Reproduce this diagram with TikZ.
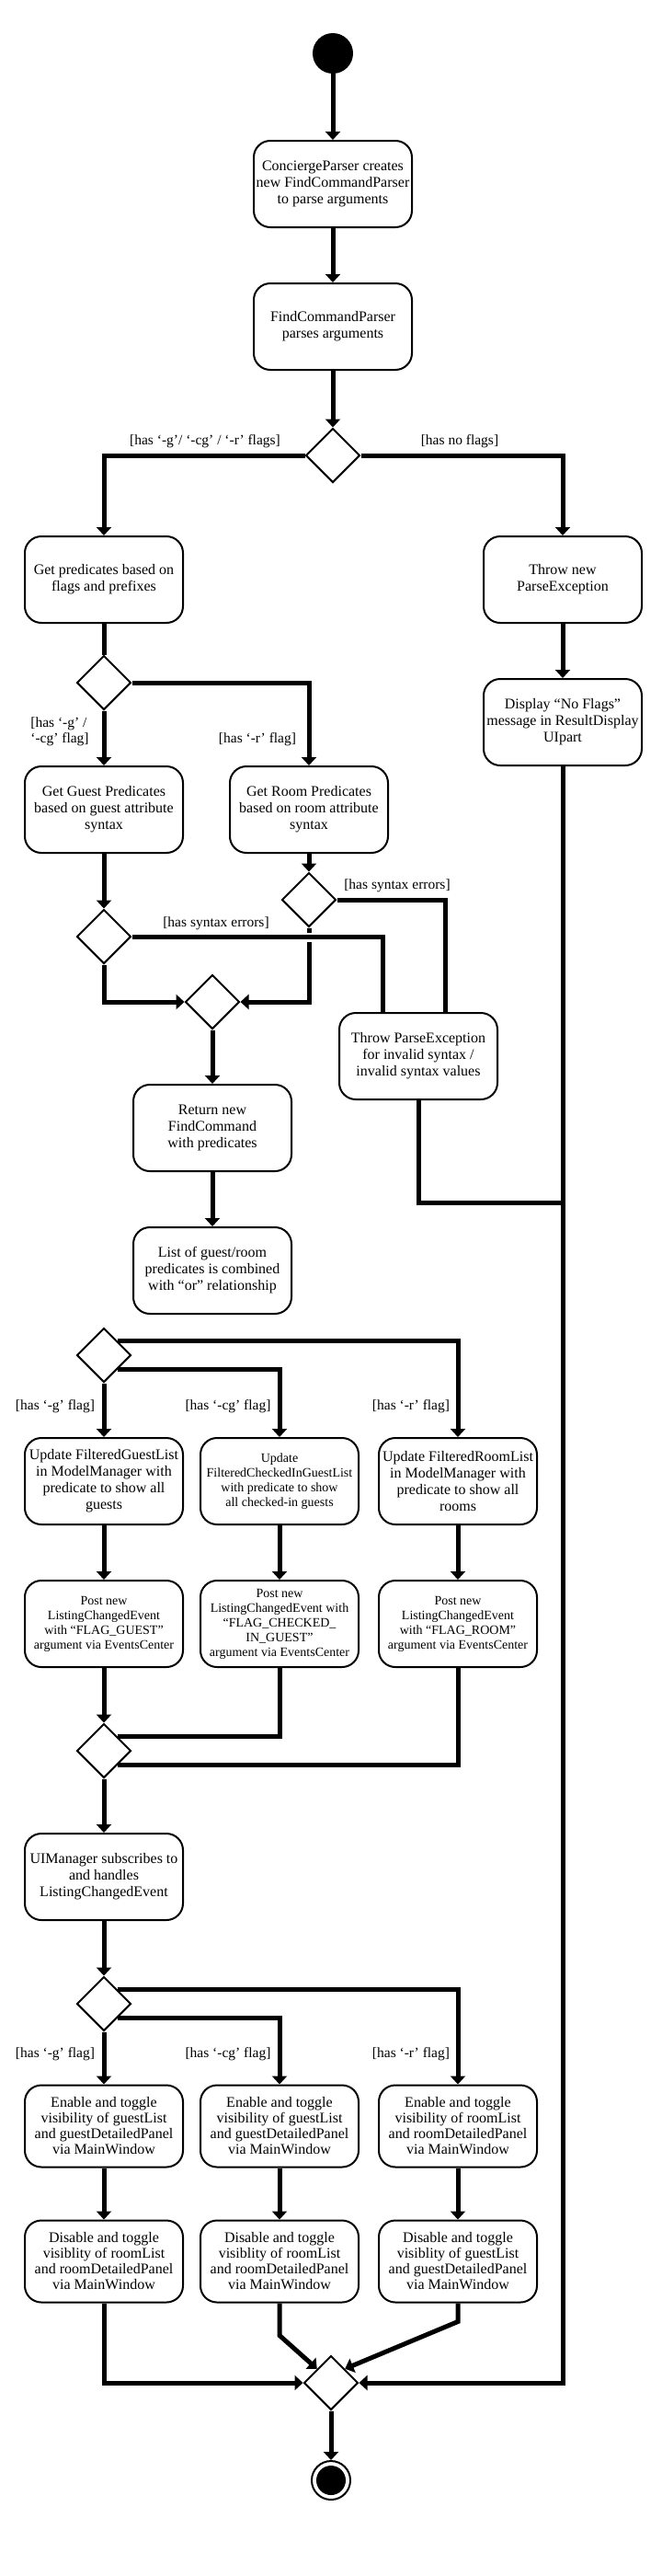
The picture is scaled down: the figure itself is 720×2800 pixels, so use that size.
\documentclass[tikz,border=0pt]{standalone}
\usepackage{fontspec}
\setmainfont{Liberation Serif}
\usetikzlibrary{shapes.geometric,arrows.meta}

\begin{document}
\begin{tikzpicture}[x=1pt,y=-1pt,
        act/.style={draw,rounded corners=18pt,line width=2pt,minimum width=172pt,minimum height=94pt,inner sep=2pt,align=center,font=\fontsize{16}{18}\selectfont},
        small/.style={font=\fontsize{14}{16}\selectfont},
        low/.style={minimum height=89pt,font=\fontsize{16}{17}\selectfont},
        branch/.style={draw,diamond,line width=2pt,minimum width=59pt,minimum height=59pt,inner sep=0pt,fill=white},
        flow/.style={line width=5pt},
        arr/.style={flow,-{Triangle[length=9pt,width=16pt]}},
        guard/.style={font=\fontsize{15.5}{17}\selectfont,inner sep=0pt}]
        \useasboundingbox (0,0) rectangle (720,2800);
        %% Start and parsing
        \node[circle,fill=black,minimum size=44pt,inner sep=0pt] (start) at (362,58) {};
        \node[act] (create) at (362,200) {ConciergeParser creates\\new FindCommandParser\\to parse arguments};
        \node[act] (parse) at (362,355) {FindCommandParser\\parses arguments};
        \node[branch] (flags) at (362,495) {};
        \node[act] (getpred) at (113,630) {Get predicates based on\\flags and prefixes};
        \node[act] (nothrow) at (612,630) {Throw new\\ParseException};
        \node[act] (noflags) at (612,785) {Display “No Flags”\\message in ResultDisplay\\UIpart};
        %% Predicates
        \node[branch] (kind) at (113,742) {};
        \node[act] (guestpred) at (113,880) {Get Guest Predicates\\based on guest attribute\\syntax};
        \node[act] (roompred) at (336,880) {Get Room Predicates\\based on room attribute\\syntax};
        \node[branch] (guestok) at (113,1018) {};
        \node[branch] (roomok) at (336,978) {};
        \node[branch] (valid) at (231,1089) {};
        \node[act] (badsyntax) at (455,1148) {Throw ParseException\\for invalid syntax /\\invalid syntax values};
        \node[act] (findcmd) at (231,1226) {Return new\\FindCommand\\with predicates};
        \node[act] (combine) at (231,1381) {List of guest/room\\predicates is combined\\with “or” relationship};
        %% Model update
        \node[branch] (listing) at (113,1473) {};
        \node[act] (updguest) at (113,1610) {Update FilteredGuestList\\in ModelManager with\\predicate to show all\\guests};
        \node[act,small] (updchk) at (304,1610) {Update\\FilteredCheckedInGuestList\\with predicate to show\\all checked-in guests};
        \node[act] (updroom) at (498,1610) {Update FilteredRoomList\\in ModelManager with\\predicate to show all\\rooms};
        \node[act,small] (postguest) at (113,1765) {Post new\\ListingChangedEvent\\with “FLAG\_GUEST”\\argument via EventsCenter};
        \node[act,small] (postchk) at (304,1765) {Post new\\ListingChangedEvent with\\“FLAG\_CHECKED\_\\IN\_GUEST”\\argument via EventsCenter};
        \node[act,small] (postroom) at (498,1765) {Post new\\ListingChangedEvent\\with “FLAG\_ROOM”\\argument via EventsCenter};
        \node[branch] (merged) at (113,1903) {};
        %% UI
        \node[act] (uimgr) at (113,2040) {UIManager subscribes to\\and handles\\ListingChangedEvent};
        \node[branch] (toggle) at (113,2178) {};
        \node[act,low] (enguest) at (113,2311) {Enable and toggle\\visibility of guestList\\and guestDetailedPanel\\via MainWindow};
        \node[act,low] (enchk) at (304,2311) {Enable and toggle\\visibility of guestList\\and guestDetailedPanel\\via MainWindow};
        \node[act,low] (enroom) at (498,2311) {Enable and toggle\\visibility of roomList\\and roomDetailedPanel\\via MainWindow};
        \node[act,low] (disguest) at (113,2458) {Disable and toggle\\visiblity of roomList\\and roomDetailedPanel\\via MainWindow};
        \node[act,low] (dischk) at (304,2458) {Disable and toggle\\visiblity of roomList\\and roomDetailedPanel\\via MainWindow};
        \node[act,low] (disroom) at (498,2458) {Disable and toggle\\visiblity of guestList\\and guestDetailedPanel\\via MainWindow};
        %% End
        \node[branch] (done) at (360,2590) {};
        \node[circle,draw,line width=2pt,minimum size=42pt,inner sep=0pt] (finish) at (360,2696) {};
        \node[circle,fill=black,minimum size=32pt,inner sep=0pt] (finishdot) at (finish) {};
        %% Guards
        \node[guard] (gflags) at (223,480) {[has ‘-g’/ ‘-cg’ / ‘-r’ flags]};
        \node[guard] (gnone) at (500,480) {[has no flags]};
        \node[guard,align=left] (gguest) at (65,795) {[has ‘-g’ /\\‘-cg’ flag]};
        \node[guard] (groom) at (280,804) {[has ‘-r’ flag]};
        \node[guard] (gsyn1) at (432,963) {[has syntax errors]};
        \node[guard] (gsyn2) at (235,1004) {[has syntax errors]};
        \node[guard] (gg1) at (60,1529) {[has ‘-g’ flag]};
        \node[guard] (gc1) at (248,1529) {[has ‘-cg’ flag]};
        \node[guard] (gr1) at (447,1529) {[has ‘-r’ flag]};
        \node[guard] (gg2) at (60,2233) {[has ‘-g’ flag]};
        \node[guard] (gc2) at (248,2233) {[has ‘-cg’ flag]};
        \node[guard] (gr2) at (447,2233) {[has ‘-r’ flag]};
        %% Connectors
        \draw[arr] (start) -- (create);
        \draw[arr] (create) -- (parse);
        \draw[arr] (parse) -- (flags);
        \draw[arr] (flags.west) -| (getpred.north);
        \draw[arr] (flags.east) -| (nothrow.north);
        \draw[flow] (getpred) -- (kind);
        \draw[arr] (kind) -- (guestpred);
        \draw[arr] (kind.east) -| (roompred.north);
        \draw[arr] (nothrow) -- (noflags);
        \draw[arr] (noflags.south) |- (done.east);
        \draw[arr] (guestpred) -- (guestok);
        \draw[arr] (roompred) -- (roomok);
        \draw[flow] (roomok.east) -| ([xshift=29pt]badsyntax.north);
        \draw[flow] (guestok.east) -| ([xshift=-39pt]badsyntax.north);
        \coordinate (hop) at (roomok.south |- guestok.east);
        \draw[flow] (roomok.south) -- ++(0,5);
        \draw[arr] ([yshift=-6pt]hop) |- (valid.east);
        \draw[arr] (guestok.south) |- (valid.west);
        \draw[arr] (valid) -- (findcmd);
        \draw[arr] (findcmd) -- (combine);
        \coordinate (rejoin) at (612,1307);
        \draw[flow] (badsyntax.south) |- (rejoin);
        \draw[arr] (listing) -- (updguest);
        \draw[arr] (listing.north east) -| (updroom.north);
        \draw[arr] (listing.south east) -| (updchk.north);
        \draw[arr] (updguest) -- (postguest);
        \draw[arr] (updchk) -- (postchk);
        \draw[arr] (updroom) -- (postroom);
        \draw[arr] (postguest) -- (merged);
        \draw[flow] (postchk.south) |- (merged.north east);
        \draw[flow] (postroom.south) |- (merged.south east);
        \draw[arr] (merged) -- (uimgr);
        \draw[arr] (uimgr) -- (toggle);
        \draw[arr] (toggle) -- (enguest);
        \draw[arr] (toggle.north east) -| (enroom.north);
        \draw[arr] (toggle.south east) -| (enchk.north);
        \draw[arr] (enguest) -- (disguest);
        \draw[arr] (enchk) -- (dischk);
        \draw[arr] (enroom) -- (disroom);
        \draw[arr] (disguest.south) |- (done.west);
        \draw[arr] (dischk.south) -- ++(0,35) -- (done.north west);
        \draw[arr] (disroom.south) -- ++(0,20) -- (done.north east);
        \draw[arr] (done) -- (finish);
    \end{tikzpicture}
\end{document}
